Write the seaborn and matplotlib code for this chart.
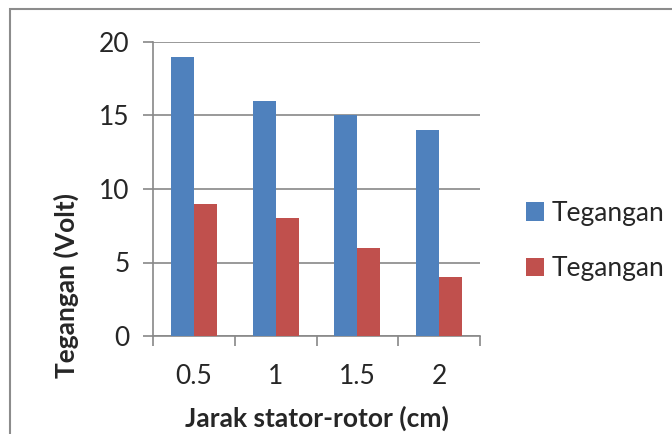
import matplotlib
matplotlib.use("Agg")
import matplotlib.pyplot as plt
import seaborn as sns
import pandas as pd
from matplotlib.patches import Rectangle
from matplotlib.ticker import FixedLocator

categories = ["0.5", "1", "1.5", "2"]
series_names = ["Tegangan 1", "Tegangan 2"]
blue_values = [19, 16, 15, 14]
red_values = [9, 8, 6, 4]
y_ticks = [0, 5, 10, 15, 20]
colors = ["#4F81BD", "#C0504D"]

df = pd.DataFrame({
    "Jarak": categories * 2,
    "Tegangan": blue_values + red_values,
    "Seri": [series_names[0]] * 4 + [series_names[1]] * 4,
})

sns.set_style("white")
plt.rcParams["font.family"] = ["Lato", "DejaVu Sans"]

FS = 19
fig = plt.figure(figsize=(6.72, 4.34), dpi=100)
W, H = 672, 434
ax = fig.add_axes([153 / W, 1 - 336 / H, (480 - 153) / W, (336 - 42) / H])

sns.barplot(data=df, x="Jarak", y="Tegangan", hue="Seri", palette=colors,
            width=0.56, gap=0, saturation=1, ax=ax, zorder=3, edgecolor="none")

ax.set_xlim(-0.5, 3.5)
ax.set_ylim(0, 20)
ax.set_yticks(y_ticks)
ax.set_yticklabels([str(v) for v in y_ticks], fontsize=FS)
ax.set_xticks(range(len(categories)))
ax.set_xticklabels(categories, fontsize=FS)

gc = "#888888"
ax.grid(axis="y", color=gc, linewidth=1.2, zorder=0)
ax.set_axisbelow(True)
for s in ["top", "right"]:
    ax.spines[s].set_visible(False)
for s in ["left", "bottom"]:
    ax.spines[s].set_color(gc)
    ax.spines[s].set_linewidth(1.2)

ax.tick_params(axis="y", which="major", length=7, width=1.2, color=gc, pad=10, left=True)
ax.tick_params(axis="x", which="major", length=0, pad=20)
ax.xaxis.set_minor_locator(FixedLocator([-0.5, 0.5, 1.5, 2.5, 3.5]))
ax.tick_params(axis="x", which="minor", length=7, width=1.2, color=gc, bottom=True)

ax.set_xlabel("Jarak stator-rotor (cm)", fontsize=FS, fontweight="bold")
ax.xaxis.set_label_coords(0.5, (336 - 418) / 294, transform=ax.transAxes)
ax.xaxis.label.set_va("center")
ax.set_ylabel("Tegangan (Volt)", fontsize=FS, fontweight="bold")
ax.yaxis.set_label_coords((66 - 153) / 327, (336 - 286) / 294)
ax.yaxis.label.set_va("center")

handles, labels = ax.get_legend_handles_labels()
leg = ax.legend(handles, ["Tegangan", "Tegangan"], loc="center left",
                bbox_to_anchor=((515 - 153) / 327, (336 - 241) / 294), frameon=False, fontsize=FS,
                handlelength=0.7, handleheight=0.7, handletextpad=0.3,
                labelspacing=1.15, borderaxespad=0)

fig.patches.append(Rectangle((10 / W, -0.1), 1.2, 1 - 9 / H + 0.1,
                             transform=fig.transFigure, fill=False,
                             edgecolor="#8C8C8C", linewidth=1.5))

fig.savefig("out.png", dpi=100)
